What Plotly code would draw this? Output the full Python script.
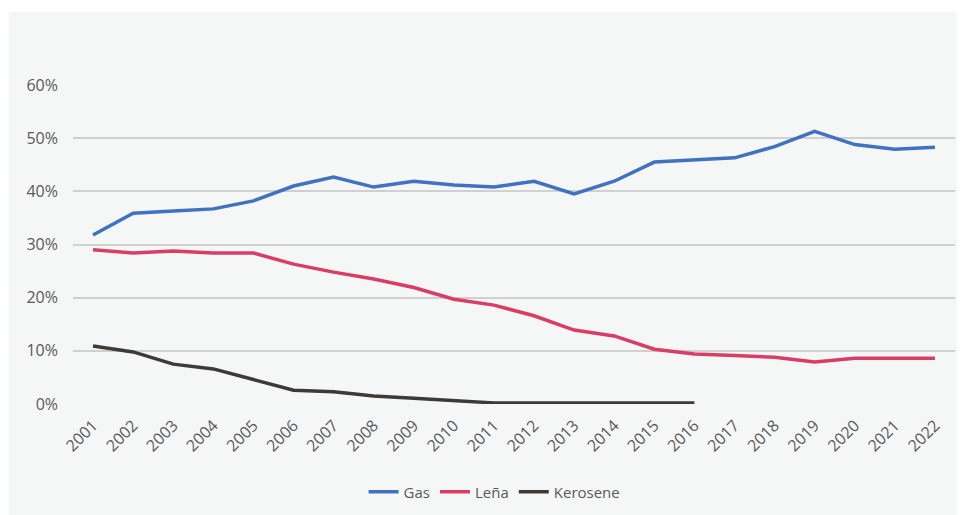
import plotly.graph_objects as go

years = [str(y) for y in range(2001, 2023)]

gas = [31.8, 35.9, 36.3, 36.7, 38.2, 41.0, 42.7, 40.8, 41.9, 41.2, 40.8,
       41.9, 39.5, 41.9, 45.5, 45.9, 46.3, 48.4, 51.3, 48.8, 47.9, 48.3]
lena = [29.0, 28.4, 28.8, 28.4, 28.4, 26.3, 24.8, 23.5, 21.9, 19.7, 18.6,
        16.6, 13.9, 12.8, 10.3, 9.4, 9.1, 8.8, 7.9, 8.6, 8.6, 8.6]
kerosene = [10.9, 9.8, 7.5, 6.6, 4.6, 2.6, 2.3, 1.5, 1.1, 0.6, 0.2,
            0.2, 0.2, 0.2, 0.1, 0.2]

series = [
    ("Gas", gas, "#3f72c0"),
    ("Leña", lena, "#d93d65"),
    ("Kerosene", kerosene, "#3e3a35"),
]

fig = go.Figure()
for name, vals, color in series:
    fig.add_trace(go.Scatter(
        x=years[:len(vals)],
        y=[v / 100 for v in vals],
        name=name,
        mode="lines",
        line=dict(color=color, width=3.5),
    ))

# page has an 8px body margin, so everything is shifted up/left by 8
L, T, PW, PH = 65, 77, 882, 319

# light panel behind the chart, white strip on top and left
fig.add_shape(type="rect", xref="paper", yref="paper",
              x0=(1 - L) / PW, x1=1 + 40 / PW, y0=-200 / PH, y1=1 + (T - 4) / PH,
              fillcolor="#f5f7f7", line_width=0, layer="below")

fig.update_layout(
    width=965, height=515,
    margin=dict(l=L, r=965 - L - PW, t=T, b=515 - T - PH, autoexpand=False),
    paper_bgcolor="white",
    plot_bgcolor="rgba(0,0,0,0)",
    font=dict(family="Open Sans, sans-serif", size=15, color="#595959"),
    showlegend=True,
    legend=dict(orientation="h", x=0.478, xanchor="center", y=-0.276,
                yanchor="middle", font=dict(size=15, color="#595959"),
                bgcolor="rgba(0,0,0,0)"),
    xaxis=dict(type="category", range=[-0.5, len(years) - 0.5],
               tickangle=-45, showgrid=False, automargin=False,
               showline=False, ticks="", ticklabelstandoff=8,
               tickfont=dict(size=16)),
    yaxis=dict(range=[0, 0.6], tickformat=".0%", dtick=0.1,
               gridcolor="#d0d0d0", gridwidth=1.5, zeroline=False,
               showline=False, ticks="", ticklabelstandoff=14,
               automargin=False, tickfont=dict(size=16)),
)

fig.write_html("out.html")
